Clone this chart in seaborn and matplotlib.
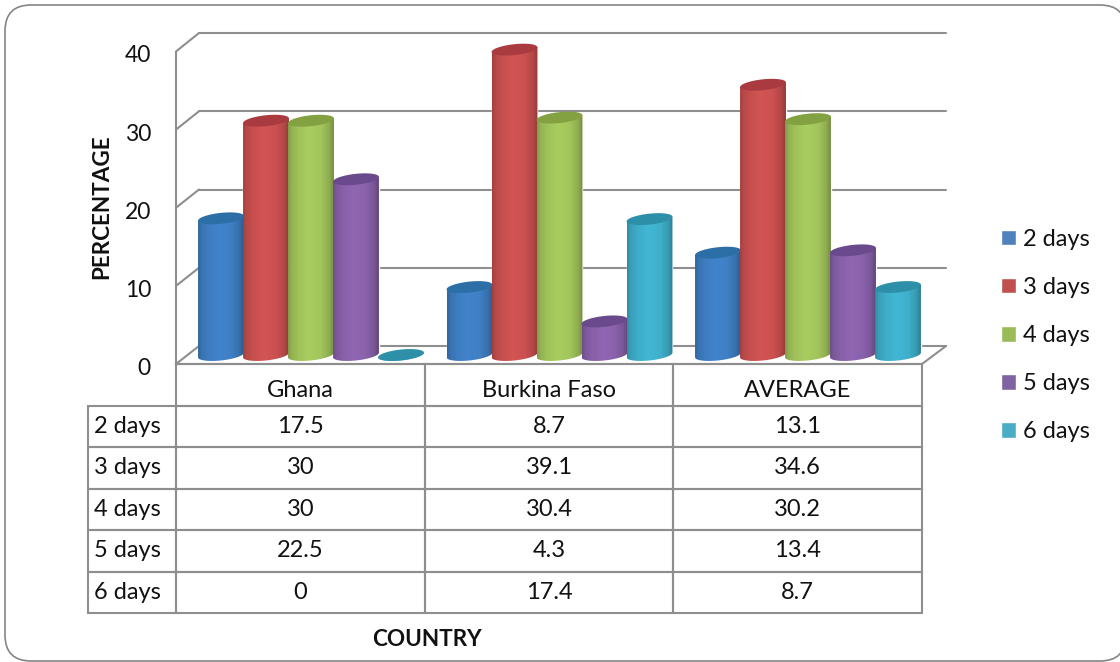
import numpy as np
import pandas as pd
import matplotlib
matplotlib.use("Agg")
import matplotlib.pyplot as plt
import seaborn as sns
from matplotlib.patches import ConnectionPatch, FancyBboxPatch, Polygon
from matplotlib.path import Path
from matplotlib.table import Table
from matplotlib.transforms import Affine2D, ScaledTranslation

countries = ["Ghana", "Burkina Faso", "AVERAGE"]
series_names = ["2 days", "3 days", "4 days", "5 days", "6 days"]
two_days = [17.5, 8.7, 13.1]
three_days = [30, 39.1, 34.6]
four_days = [30, 30.4, 30.2]
five_days = [22.5, 4.3, 13.4]
six_days = [0, 17.4, 8.7]
y_ticks = [0, 10, 20, 30, 40]

legend_colors = ["#4F81BD", "#C0504D", "#9BBB59", "#8064A2", "#4BACC6"]
body_colors = ["#3F7FC4", "#CB5150", "#A3C55C", "#8A62AC", "#3FB0CC"]
cap_colors = ["#2C6EA6", "#A93B40", "#84A142", "#6A4A8C", "#2E90A8"]
line_grey = "#8E8E8E"

W, H = 1120, 662
FONT = ["Lato", "DejaVu Sans"]
TEXT_SIZE = 17

sns.set_theme(style="white")
plt.rcParams["font.family"] = FONT
plt.rcParams["text.color"] = "#111111"

fig = plt.figure(figsize=(W / 100, H / 100), dpi=100, facecolor="white")


def box(left, top, right, bottom):
    """Axes rectangle from pixel edges measured from the top-left corner."""
    return [left / W, 1 - bottom / H, (right - left) / W, (bottom - top) / H]


# Rounded outer frame, running off the right edge of the canvas
fig.add_artist(FancyBboxPatch(
    (5 + 26, H - 661 + 26), 1126 - 5 - 52, 661 - 5 - 52,
    boxstyle="round,pad=26,rounding_size=26",
    transform=Affine2D(), facecolor="white", edgecolor="#858585",
    linewidth=1.2, zorder=-5, clip_on=False))

# Back wall, front plane and bar plane of the pseudo-3D plot box
ax_wall = fig.add_axes(box(199, 33, 946, 346), zorder=1)
ax_front = fig.add_axes(box(176, 51.5, 922, 364), zorder=2)
ax_bars = fig.add_axes(box(186.75, 42.6, 932.25, 355), zorder=3)

for ax in (ax_wall, ax_front, ax_bars):
    ax.patch.set_visible(False)
    ax.set_ylim(0, 40)

ax_wall.axis("off")
for tick in y_ticks:
    ax_wall.axhline(tick, color=line_grey, lw=1.5, clip_on=False)

sns.despine(ax=ax_front, top=True, right=True)
for side in ("left", "bottom"):
    ax_front.spines[side].set_color(line_grey)
    ax_front.spines[side].set_linewidth(1.5)
ax_front.set_xlim(0, 3)
ax_front.set_xticks([])
ax_front.set_yticks(y_ticks)
ax_front.tick_params(axis="y", length=0, pad=18, labelsize=16.5, labelcolor="#111111")
# Nudge the tick labels down a little relative to their gridline ends
nudge = ScaledTranslation(0, -2.5 / 100, fig.dpi_scale_trans)
for tick in ax_front.yaxis.get_major_ticks():
    tick.label1.set_transform(tick.label1.get_transform() + nudge)

# Slanted edges joining the front plane to the back wall
for tick in y_ticks:
    fig.add_artist(ConnectionPatch(
        xyA=(0, tick), coordsA=ax_front.get_yaxis_transform(),
        xyB=(0, tick), coordsB=ax_wall.get_yaxis_transform(),
        color=line_grey, lw=1.5, zorder=1.5))
fig.add_artist(ConnectionPatch(
    xyA=(1, 0), coordsA=ax_front.get_yaxis_transform(),
    xyB=(1, 0), coordsB=ax_wall.get_yaxis_transform(),
    color=line_grey, lw=1.5, zorder=1.5))

frame = pd.DataFrame({
    "country": np.tile(countries, len(series_names)),
    "series": np.repeat(series_names, len(countries)),
    "percentage": two_days + three_days + four_days + five_days + six_days,
})
sns.barplot(
    data=frame, x="country", y="percentage", hue="series",
    order=countries, hue_order=series_names,
    palette=dict(zip(series_names, legend_colors)),
    width=225 / 248.5, gap=0, saturation=1, ax=ax_bars,
)

# Turn each flat bar into a shaded cylinder with slightly tilted end ellipses
ELLIPSE_H = 1.4
TILT = 0.3
shade_pos = [0.0, 0.07, 0.22, 0.45, 0.72, 0.9, 1.0]
shade_val = [0.80, 0.90, 0.98, 1.04, 1.00, 0.88, 0.72]
ramp = np.interp(np.linspace(0, 1, 64), shade_pos, shade_val)


def ellipse_points(center, width, level, start, stop):
    theta = np.linspace(start, stop, 48)
    return np.column_stack([
        center + width / 2 * np.cos(theta),
        level + ELLIPSE_H / 2 * np.sin(theta) + TILT * np.cos(theta),
    ])


for level, container in enumerate(ax_bars.containers):
    rgb = np.array(matplotlib.colors.to_rgb(body_colors[level]))
    shade = np.clip(ramp[None, :, None] * rgb[None, None, :], 0, 1)
    for bar in container:
        width = bar.get_width() * 1.02
        center = bar.get_x() + bar.get_width() / 2
        height = bar.get_height()
        left, right = center - width / 2, center + width / 2
        bar.set_facecolor("none")
        outline = ellipse_points(center, width, 0, np.pi, 2 * np.pi)
        outline = np.vstack([outline, [right, height + TILT],
                             [left, height - TILT], outline[0]])
        body = ax_bars.imshow(shade, aspect="auto", interpolation="bilinear",
                              extent=[left, right, -ELLIPSE_H, height + 1],
                              zorder=3 + level)
        body.set_clip_box(fig.bbox)
        body.set_clip_path(Path(outline, closed=True), ax_bars.transData)
        ax_bars.add_patch(Polygon(ellipse_points(center, width, height, 0, 2 * np.pi),
                                  closed=True, facecolor=cap_colors[level],
                                  edgecolor="none", zorder=3 + level, clip_on=False))

ax_bars.set_xlim(-0.5, 2.5)
ax_bars.set_ylim(0, 40)
ax_bars.set_xlabel("")
ax_bars.set_ylabel("")
ax_bars.axis("off")

sns.move_legend(
    ax_bars, loc="center left", bbox_to_anchor=(980 / W, 1 - 335.5 / H),
    bbox_transform=fig.transFigure, frameon=False, title=None, fontsize=TEXT_SIZE,
    handlelength=0.64, handleheight=0.64, handletextpad=0.28, labelspacing=1.15,
)

# Data table beneath the plot box; its grid lines up with the front plane.
# Cell sizes are given as fractions of the front-plane axes.
front_w, front_h = 922 - 176, 364 - 51.5
col_w = 1 / 3
row_h = 41.5 / front_h
label_w = 88 / front_w
table = Table(ax_front, bbox=[0, -6 * row_h, 1, 6 * row_h])
table.auto_set_font_size(False)
columns = [two_days, three_days, four_days, five_days, six_days]
for c, name in enumerate(countries):
    header = table.add_cell(0, c, col_w, row_h, text=name, loc="center", edgecolor=line_grey)
    # Country names sit in the lower part of the header row
    header.get_text().set_transform(Affine2D().translate(0, -6))
for r, (name, values) in enumerate(zip(series_names, columns), start=1):
    label = table.add_cell(r, -1, label_w, row_h, text=name, loc="left", edgecolor=line_grey)
    label.PAD = 0.07
    for c, value in enumerate(values):
        table.add_cell(r, c, col_w, row_h, text=f"{value:g}", loc="center", edgecolor=line_grey)
table.set_fontsize(TEXT_SIZE)
for cell in table.get_celld().values():
    cell.set_linewidth(1.5)
    cell.set_facecolor("none")
    cell.get_text().set_color("#111111")
ax_front.add_table(table)

ax_front.set_ylabel("PERCENTAGE", fontweight="bold", fontsize=16.2, color="#111111")
ax_front.yaxis.set_label_coords((102 - 176) / front_w, (364 - 207) / front_h)
ax_front.set_xlabel("COUNTRY", fontweight="bold", fontsize=16.2, color="#111111")
ax_front.xaxis.set_label_coords((427 - 176) / front_w, -(639 - 364) / front_h)
ax_front.xaxis.label.set_va("center")
ax_front.yaxis.label.set_va("center")

fig.savefig("out.png", dpi=100, facecolor="white")
